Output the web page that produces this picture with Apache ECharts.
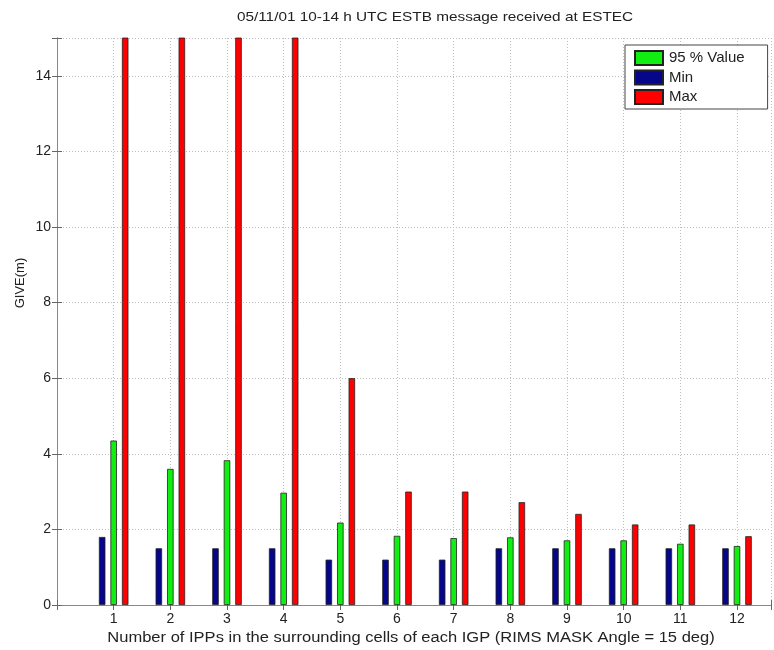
<!DOCTYPE html>
<html>
<head>
<meta charset="utf-8">
<script src="https://cdn.jsdelivr.net/npm/echarts@6/dist/echarts.min.js"></script>
<style>
  html, body { margin: 0; padding: 0; background: #fff; }
  #chart { width: 774px; height: 650px; }
</style>
</head>
<body>
<div id="chart"></div>
<script>
// Number of IPPs in the surrounding cells of each IGP
const ippCounts = [1, 2, 3, 4, 5, 6, 7, 8, 9, 10, 11, 12];
// GIVE statistics in metres; Max values above 15 m run off the top of the axis
const giveMin = [1.8, 1.5, 1.5, 1.5, 1.2, 1.2, 1.2, 1.5, 1.5, 1.5, 1.5, 1.5];
const give95 = [4.35, 3.6, 3.83, 2.97, 2.18, 1.83, 1.77, 1.79, 1.71, 1.71, 1.62, 1.56];
const giveMax = [20, 20, 20, 20, 6, 3, 3, 2.72, 2.41, 2.13, 2.13, 1.82];
const yTicks = [0, 2, 4, 6, 8, 10, 12, 14];

const FONT = '"Liberation Sans", Arial, sans-serif';
const TXT = '#222';
const WIDE = 1.18; // horizontally stretched captions

const pairs = vals => ippCounts.map((c, i) => [c, vals[i]]);

const chart = echarts.init(document.getElementById('chart'));

const barBase = {
  type: 'bar',
  barWidth: 6.5,
  barGap: '77%',
  clip: true,
  animation: false,
  xAxisIndex: 0,
  yAxisIndex: 0
};

chart.setOption({
  animation: false,
  backgroundColor: '#fff',
  grid: { left: 57, right: -1, top: 38, bottom: 45, containLabel: false },
  graphic: [
    { type: 'text', x: 435, y: 17, scaleX: WIDE, style: { x: 0, y: 0,
      text: '05/11/01 10-14 h UTC ESTB message received at ESTEC',
      font: '13px ' + FONT, fill: TXT, align: 'center', verticalAlign: 'middle' } },
    { type: 'text', x: 411, y: 638, scaleX: WIDE, style: { x: 0, y: 0,
      text: 'Number of IPPs in the surrounding cells of each IGP (RIMS MASK Angle = 15 deg)',
      font: '14px ' + FONT, fill: TXT, align: 'center', verticalAlign: 'middle' } },
    { type: 'text', x: 20, y: 283, rotation: Math.PI / 2, style: { x: 0, y: 0, text: 'GIVE(m)',
      font: '13px ' + FONT, fill: TXT, align: 'center', verticalAlign: 'middle' } }
  ],
  legend: {
    orient: 'vertical',
    left: 625,
    top: 45,
    padding: [5, 23, 4, 9],
    icon: 'rect',
    itemWidth: 28,
    itemHeight: 14,
    itemGap: 3.5,
    backgroundColor: '#fff',
    borderColor: '#444',
    borderWidth: 1,
    borderRadius: 0,
    textStyle: { fontFamily: FONT, fontSize: 15, color: TXT, padding: [0, 0, 0, 1] },
    data: ['95 % Value', 'Min', 'Max']
  },
  xAxis: [
    {
      type: 'value', min: 0, max: 12.6, interval: 1,
      axisLine: { lineStyle: { color: '#888', width: 1 } },
      axisTick: { inside: true, length: 5, lineStyle: { color: '#666' } },
      axisLabel: { fontFamily: FONT, fontSize: 14, color: TXT, margin: 7,
        formatter: v => (ippCounts.indexOf(v) >= 0 ? String(v) : '') },
      splitLine: { show: true, lineStyle: { color: '#bdbdbd', type: [1, 2], width: 1 } }
    },
    {
      type: 'value', min: 0, max: 12.6, interval: 1, position: 'top',
      axisLine: { show: true, lineStyle: { color: '#888', width: 1 } },
      axisTick: { show: true, inside: true, length: 5, lineStyle: { color: '#666' } },
      axisLabel: { show: false },
      splitLine: { show: false }
    }
  ],
  yAxis: [
    {
      type: 'value', min: 0, max: 15, interval: 2,
      axisLine: { show: true, lineStyle: { color: '#888', width: 1 } },
      axisTick: { show: true, inside: true, length: 5, lineStyle: { color: '#666' } },
      axisLabel: { fontFamily: FONT, fontSize: 14, color: TXT, margin: 6,
        formatter: v => (yTicks.indexOf(v) >= 0 ? String(v) : '') },
      splitLine: { show: true, lineStyle: { color: '#bdbdbd', type: [1, 2], width: 1 } }
    },
    {
      type: 'value', min: 0, max: 15, interval: 2, position: 'right',
      axisLine: { show: true, lineStyle: { color: '#888', width: 1 } },
      axisTick: { show: true, inside: true, length: 5, lineStyle: { color: '#666' } },
      axisLabel: { show: false },
      splitLine: { show: false }
    }
  ],
  series: [
    Object.assign({}, barBase, { name: 'Min', data: pairs(giveMin),
      itemStyle: { color: '#06068a', borderColor: '#222', borderWidth: 0.8 } }),
    Object.assign({}, barBase, { name: '95 % Value', data: pairs(give95),
      itemStyle: { color: '#11ee11', borderColor: '#222', borderWidth: 0.8 } }),
    Object.assign({}, barBase, { name: 'Max', data: pairs(giveMax),
      itemStyle: { color: '#ff0000', borderColor: '#222', borderWidth: 0.8 } })
  ]
});
</script>
</body>
</html>
